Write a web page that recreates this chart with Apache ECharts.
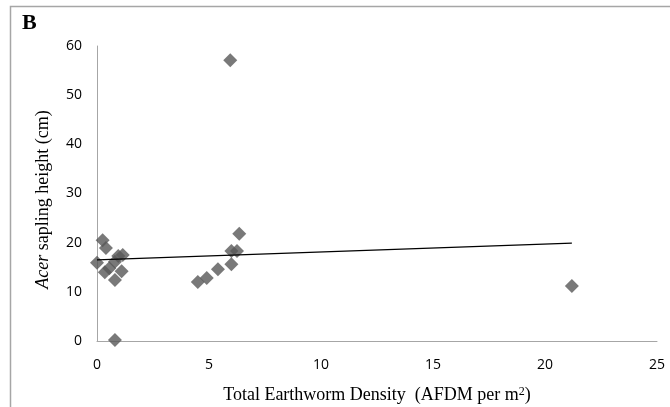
<!DOCTYPE html>
<html>
<head>
<meta charset="utf-8">
<script src="https://cdn.jsdelivr.net/npm/echarts@6/dist/echarts.min.js"></script>
<style>
html, body { margin: 0; padding: 0; background: #fff; }
#container { width: 670px; height: 407px; }
</style>
</head>
<body>
<div id="container"></div>
<script>
// earthworm density (AFDM per m2) vs Acer sapling height (cm)
var densityX = [0.0, 0.25, 0.4, 0.35, 0.55, 0.8, 0.8, 0.95, 1.15, 1.1, 0.8,
                4.5, 4.9, 5.4, 6.0, 6.0, 6.25, 6.35, 5.95, 21.2];
var heightY = [15.9, 20.5, 18.9, 14.0, 14.8, 12.4, 16.1, 17.3, 17.5, 14.2, 0.2,
               12.0, 12.8, 14.6, 15.6, 18.3, 18.3, 21.8, 57.1, 11.2];
// linear trend line end points
var trendX = [0, 21.2];
var trendY = [16.5, 19.9];
var xTicks = [0, 5, 10, 15, 20, 25];
var yTicks = [0, 10, 20, 30, 40, 50, 60];

var points = [];
for (var i = 0; i < densityX.length; i++) {
    points.push([densityX[i], heightY[i]]);
}
var trend = [];
for (var j = 0; j < trendX.length; j++) {
    trend.push([trendX[j], trendY[j]]);
}

var dom = document.getElementById("container");
var myChart = echarts.init(dom);
var option = {
    animation: false,
    backgroundColor: '#fff',
    grid: { left: 97, right: 13, top: 46, bottom: 66, outerBoundsMode: 'none' },
    graphic: [
        {
            type: 'rect',
            shape: { x: 10.5, y: 6.5, width: 700, height: 450 },
            style: { fill: 'none', stroke: '#a6a6a6', lineWidth: 1.5 },
            silent: true
        },
        {
            type: 'text',
            left: 22, top: 12,
            style: { text: 'B', font: 'bold 22px "Liberation Serif"', fill: '#000' }
        }
    ],
    xAxis: {
        type: 'value',
        min: xTicks[0],
        max: xTicks[xTicks.length - 1],
        interval: 5,
        splitLine: { show: false },
        axisTick: { show: false },
        axisLine: { lineStyle: { color: '#a6a6a6', width: 1 } },
        axisLabel: { color: '#000', fontSize: 14, fontFamily: 'Open Sans', margin: 17 },
        name: 'Total Earthworm Density  (AFDM per m{s|2})',
        nameLocation: 'middle',
        nameGap: 45,
        nameTextStyle: {
            color: '#000', fontSize: 18, fontFamily: 'Liberation Serif',
            rich: { s: { fontSize: 12, fontFamily: 'Liberation Serif', color: '#000', verticalAlign: 'top', padding: [0, 0, 7, 0] } }
        }
    },
    yAxis: {
        type: 'value',
        min: yTicks[0],
        max: yTicks[yTicks.length - 1],
        interval: 10,
        splitLine: { show: false },
        axisTick: { show: false },
        axisLine: { show: true, lineStyle: { color: '#a6a6a6', width: 1 } },
        axisLabel: { color: '#000', fontSize: 14, fontFamily: 'Open Sans', margin: 15 },
        name: '{i|Acer} sapling height (cm)',
        nameLocation: 'middle',
        nameGap: 45,
        nameTextStyle: {
            color: '#000', fontSize: 18, fontFamily: 'Liberation Serif',
            padding: [0, 12, 0, 0],
            rich: { i: { fontStyle: 'italic', fontSize: 18, fontFamily: 'Liberation Serif', color: '#000' } }
        }
    },
    series: [
        {
            type: 'scatter',
            data: points,
            symbol: 'diamond',
            symbolSize: [14, 14],
            itemStyle: { color: '#585858' },
            z: 3
        },
        {
            type: 'line',
            data: trend,
            symbol: 'none',
            lineStyle: { color: '#000', width: 1.3 },
            z: 4
        }
    ]
};
myChart.setOption(option, true);
</script>
</body>
</html>
